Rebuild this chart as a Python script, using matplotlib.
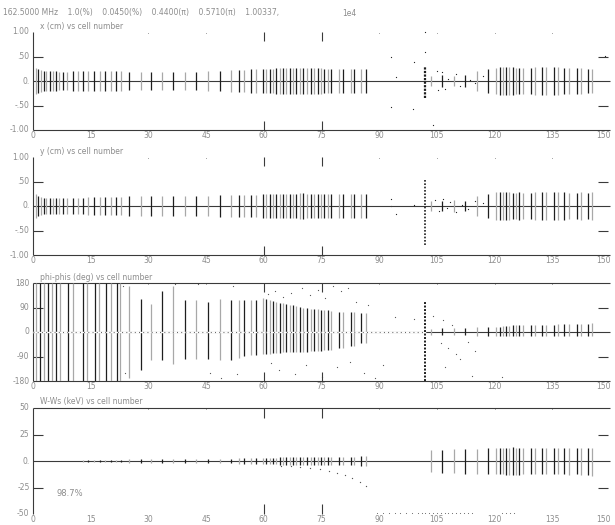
import matplotlib
matplotlib.use("Agg")
import matplotlib.pyplot as plt
import matplotlib.transforms as mtransforms

# Header / titles
HEADER = "162.5000 MHz    1.0(%)    0.0450(%)    0.4400(\u03c0)    0.5710(\u03c0)    1.00337,"
HEADER_RIGHT = "1e4"
TITLES = ["x (cm) vs cell number", "y (cm) vs cell number",
          "phi-phis (deg) vs cell number", "W-Ws (keV) vs cell number"]
NOTE = "98.7%"

# x tick labels (cell number)
XTICKS = [0, 15, 30, 45, 60, 75, 90, 105, 120, 135, 150]

# y tick values / labels per panel
YTICKS = [[1.0, 0.5, 0.0, -0.5, -1.0], [1.0, 0.5, 0.0, -0.5, -1.0],
          [180, 90, 0, -90, -180], [50, 25, 0, -25, -50]]
YLABELS = [["1.00", ".50", "0.", "-.50", "-1.00"], ["1.00", ".50", "0.", "-.50", "-1.00"],
           ["180", "90", "0", "-90", "-180"], ["50", "25", "0.", "-25", "-50"]]

# output positions, first section (cell number)
pos1 = [0.7, 1.4, 2.1, 2.8, 3.5, 4.3, 5.1, 5.9, 6.7, 7.8, 8.9, 10.4, 11.7, 13.0,
        14.4, 15.8, 17.3, 18.7, 20.2, 21.6, 22.8, 24.9, 28.0, 30.8, 33.6, 36.4,
        39.4, 42.4, 45.4, 48.5, 51.5, 53.6, 54.9, 56.7, 58.0, 59.8, 60.7, 61.5,
        62.4, 63.3, 64.1, 65.0, 65.9, 66.7, 67.6, 68.4, 69.3, 70.3, 71.2, 72.2,
        73.1, 74.0, 74.8, 75.7, 76.6, 77.4, 79.6, 80.5, 82.6, 83.5, 85.2, 86.6]
# second section
pos2 = [103.5, 106.4, 109.4, 112.4, 115.4, 118.4, 120.4, 121.3, 122.2, 123.0,
        123.8, 124.7, 125.6, 126.4, 127.4, 129.4, 130.4, 132.3, 133.4, 135.4,
        136.4, 138.1, 139.4, 141.4, 142.4, 144.2, 145.3]

# x envelope half-widths (cm)
x_h1 = [0.27, 0.25, 0.22, 0.21, 0.20, 0.20, 0.20, 0.20, 0.19, 0.19, 0.19, 0.20,
        0.20, 0.20, 0.20, 0.21, 0.21, 0.20, 0.20, 0.20, 0.20, 0.19, 0.18, 0.18,
        0.18, 0.18, 0.19, 0.19, 0.20, 0.21, 0.22, 0.23, 0.23, 0.24, 0.24, 0.25,
        0.25, 0.25, 0.25, 0.26, 0.26, 0.26, 0.26, 0.26, 0.27, 0.27, 0.27, 0.27,
        0.26, 0.26, 0.26, 0.26, 0.26, 0.25, 0.25, 0.25, 0.24, 0.24, 0.24, 0.24,
        0.24, 0.24]
x_h2 = [0.10, 0.12, 0.10, 0.12, 0.20, 0.24, 0.27, 0.28, 0.29, 0.29, 0.28, 0.28,
        0.27, 0.27, 0.26, 0.27, 0.28, 0.29, 0.28, 0.29, 0.28, 0.27, 0.27, 0.26,
        0.26, 0.25, 0.25]
# y envelope half-widths (cm)
y_h1 = [0.24, 0.21, 0.18, 0.17, 0.17, 0.17, 0.16, 0.16, 0.16, 0.17, 0.17, 0.17,
        0.17, 0.17, 0.18, 0.18, 0.19, 0.19, 0.19, 0.19, 0.19, 0.20, 0.20, 0.20,
        0.20, 0.20, 0.21, 0.21, 0.21, 0.22, 0.22, 0.22, 0.23, 0.23, 0.23, 0.24,
        0.24, 0.24, 0.24, 0.24, 0.25, 0.25, 0.25, 0.25, 0.25, 0.25, 0.26, 0.26,
        0.25, 0.25, 0.25, 0.25, 0.25, 0.25, 0.25, 0.25, 0.25, 0.25, 0.24, 0.24,
        0.24, 0.24]
y_h2 = [0.10, 0.10, 0.12, 0.10, 0.20, 0.25, 0.28, 0.29, 0.29, 0.28, 0.28, 0.27,
        0.27, 0.28, 0.27, 0.27, 0.28, 0.29, 0.28, 0.29, 0.29, 0.28, 0.27, 0.27,
        0.28, 0.27, 0.29]

# phase: full-width bars of the buncher region
pos3a = [0.8, 1.8, 2.9, 3.8, 4.9, 6.0, 7.0, 9.2, 10.3, 13.1, 14.1, 16.1, 17.2,
         19.1, 20.2, 21.9, 22.7]
pos3b = [24.9, 28.0, 30.8, 33.6, 36.4, 39.4, 42.4, 45.4, 48.5, 51.5, 53.6, 54.9,
         56.7, 58.0, 59.8, 60.7, 61.5, 62.4, 63.3, 64.1, 65.0, 65.9, 66.7, 67.6,
         68.4, 69.3, 70.3, 71.2, 72.2, 73.1, 74.0, 74.8, 75.7, 76.6, 77.4, 79.6,
         80.5, 82.6, 83.5, 85.2, 86.6]
ph_top = [170, 122, 104, 150, 168, 116, 118, 112, 122, 118, 118, 118, 118, 118,
          125, 120, 118, 115, 112, 108, 105, 102, 100, 98, 95, 92, 90, 88, 86, 84,
          83, 82, 80, 79, 78, 75, 75, 72, 72, 68, 68]
ph_bot = [-170, -141, -104, -104, -116, -101, -98, -98, -102, -104, -96, -88, -86,
          -86, -82, -80, -79, -78, -77, -76, -75, -75, -74, -74, -73, -73, -72,
          -72, -71, -70, -70, -68, -67, -66, -65, -58, -58, -52, -52, -40, -40]
ph_top2 = [12, 15, 15, 15, 18, 18, 20, 20, 22, 22, 22, 24, 24, 24, 25, 25, 26,
           26, 27, 27, 28, 28, 28, 29, 30, 30, 32]
ph_bot2 = [-10, -12, -12, -12, -14, -14, -15, -15, -15, -16, -16, -16, -16, -16,
           -16, -16, -16, -16, -16, -16, -16, -16, -16, -16, -16, -14, -14]

# energy half-widths (keV)
w_pos1 = [13.0, 14.4, 15.8, 17.3, 18.7, 20.2, 21.6, 22.8, 24.9, 28.0, 30.8, 33.6,
          36.4, 39.4, 42.4, 45.4, 48.5, 51.5, 53.6, 54.9, 56.7, 58.0, 59.8, 60.7,
          61.5, 62.4, 63.3, 64.1, 65.0, 65.9, 66.7, 67.6, 68.4, 69.3, 70.3, 71.2,
          72.2, 73.1, 74.0, 74.8, 75.7, 76.6, 77.4, 79.6, 80.5, 82.6, 83.5, 85.2,
          86.6]
w_h1 = [1.0, 1.0, 1.0, 1.2, 1.2, 1.2, 1.3, 1.3, 1.5, 1.5, 1.6, 1.6, 1.7, 1.8,
        2.0, 2.0, 2.2, 2.3, 2.5, 2.5, 2.8, 3.0, 3.2, 3.2, 3.3, 3.3, 3.3, 3.4, 3.4,
        3.4, 3.5, 3.5, 3.5, 3.5, 3.5, 3.6, 3.6, 3.6, 3.6, 3.7, 3.7, 3.7, 3.8, 4.0,
        4.0, 4.2, 4.2, 4.5, 4.5]
w_top2 = [10, 10, 11, 11, 11, 12, 12, 12, 12, 12, 12, 13, 12, 12, 12, 12, 12, 12,
          12, 12, 12, 12, 12, 12, 12, 12, 12]
w_bot2 = [-10, -11, -11, -12, -12, -12, -12, -12, -12, -13, -13, -13, -13, -13,
          -12, -12, -12, -12, -12, -12, -12, -12, -13, -12, -13, -13, -14]
# energy of the off-bunch particles (tail below zero)
w_tail_x = [64.5, 67.0, 69.5, 72.0, 74.5, 77.0, 79.0, 81.0, 83.0, 85.0, 86.5]
w_tail_y = [-4.5, -5.0, -5.5, -6.5, -7.5, -9.0, -11.0, -13.0, -16.0, -20.0, -24.0]
# lost particles, plotted on the bottom edge
lost_x = [89.5, 91.0, 92.5, 94.0, 95.5, 97.0, 98.5, 100.0, 101.0, 102.0, 103.0,
          104.0, 105.0, 106.0, 107.0, 108.0, 109.0, 110.0, 111.0, 112.0, 113.0,
          114.0, 122.0, 123.0, 124.0, 125.0]

# scattered halo points
x_scat_x = [93.0, 94.4, 93.0, 99.0, 98.8, 102.0, 102.0, 104.0, 105.0, 105.2,
            106.4, 107.0, 108.0, 110.0, 111.0, 113.5, 115.0, 117.0, 148.6]
x_scat_y = [0.49, 0.08, -0.53, 0.38, -0.58, 0.59, 1.0, -0.89, 0.20, -0.18, 0.18,
            -0.16, 0.05, 0.14, -0.10, 0.02, -0.05, 0.11, 0.52]
y_scat_x = [93.0, 93.0, 94.4, 99.0, 104.5, 105.5, 106.5, 107.5, 108.5, 110.0,
            111.5, 113.0, 115.0, 117.0]
y_scat_y = [0.14, 0.0, -0.16, 0.02, 0.12, -0.10, 0.15, -0.05, 0.08, -0.12, 0.03,
            -0.06, 0.10, 0.06]
ph_scat_x = [23.5, 24.0, 37.0, 43.0, 46.0, 49.0, 52.0, 53.0, 61.0, 62.0, 63.0,
             64.0, 65.0, 67.0, 68.0, 70.0, 71.0, 72.0, 74.0, 75.0, 76.0, 78.0,
             79.0, 80.0, 82.0, 82.5, 84.0, 86.0, 87.0, 89.0, 91.0, 94.0, 99.0,
             104.0, 106.0, 106.5, 107.0, 108.0, 109.0, 110.0, 111.0, 113.0,
             114.0, 115.0, 122.0]
ph_scat_y = [170, -150, 175, 175, -150, -170, 170, -155, 140, -115, 150, -140,
             130, 145, -155, 160, -120, 135, 155, -165, 125, 170, -130, 150, 160,
             -110, 110, -150, 100, -170, -120, 55, 48, 60, -40, 45, -130, -60,
             25, -80, -100, -35, -160, -70, -165]
ph_col_x = 102.0
ph_col_lo = -180
ph_col_hi = 110
xcol_lo, xcol_hi = -0.34, 0.30
ycol_lo, ycol_hi = -0.79, 0.54

TXT = "#8c8c8c"
LINE = "#3a3a3a"
DARK = "#1e1e1e"
GRAY = "#a8a8a8"

fig = plt.figure(figsize=(6.15, 5.25), dpi=100)
W, H = 615.0, 525.0
rows = [(32, 130), (157, 255), (283, 381), (408, 514)]
axes = []
for top, bot in rows:
    ax = fig.add_axes([33 / W, 1 - bot / H, 577 / W, (bot - top) / H])
    ax.set_xlim(0, 150)
    ax.axis("off")
    axes.append(ax)

limits = [(-1, 1), (-1, 1), (-180, 180), (-50, 50)]
for i, ax in enumerate(axes):
    lo, hi = limits[i]
    ax.set_ylim(lo, hi)
    span = hi - lo
    kw = dict(color=LINE, lw=0.8, clip_on=False, solid_capstyle="butt")
    ax.plot([0, 0], [lo, hi], **kw)
    ax.plot([0, 150], [0, 0], **kw)
    if i < 3:
        ax.plot([0, 150], [lo, lo], **kw)
    if i >= 2:
        ax.plot([0, 150], [hi, hi], **kw)
    # short y ticks at half range
    for v in (YTICKS[i][1], YTICKS[i][3]):
        ax.plot([0, 2.6], [v, v], **kw)
        ax.plot([147.0, 149.6], [v, v], **kw)
    # long x ticks
    for xv in (60, 75):
        ax.plot([xv, xv], [hi, hi - 0.09 * span], **kw)
        ax.plot([xv, xv], [lo, lo + 0.09 * span], **kw)
    for xv in (30, 45, 90, 105, 120, 135):
        ax.plot([xv], [hi - 0.01 * span], marker="s", ms=0.45, color="#777777",
                mew=0, clip_on=False)
    trans_y = mtransforms.blended_transform_factory(ax.transAxes, ax.transData)
    for v, lab in zip(YTICKS[i], YLABELS[i]):
        ax.text(-0.006, v, lab, transform=trans_y, ha="right", va="center",
                fontsize=5.5, color=TXT)
    trans_x = mtransforms.blended_transform_factory(ax.transData, ax.transAxes)
    for xv in XTICKS:
        xpos = xv if xv < 150 else 148.3
        ax.text(xpos, -0.055, str(xv), transform=trans_x, ha="center", va="center",
                fontsize=5.5, color=TXT, clip_on=False)
    ax.text(0.012, 1.06, TITLES[i], transform=ax.transAxes, ha="left",
            va="center", fontsize=5.5, color=TXT)


def bars(ax, xs, lo, hi):
    cols = [DARK if k % 2 else GRAY for k in range(len(xs))]
    ax.vlines(xs, lo, hi, colors=cols, lw=0.9)


# panel 1: x
ax = axes[0]
bars(ax, pos1, [-h for h in x_h1], x_h1)
bars(ax, pos2, [-h for h in x_h2], x_h2)
ax.vlines([ph_col_x], xcol_lo, xcol_hi, colors=DARK, lw=1.6, linestyles=(0, (1, 0.6)))
ax.scatter(x_scat_x, x_scat_y, s=0.8, color=DARK, lw=0, clip_on=False)

# panel 2: y
ax = axes[1]
bars(ax, pos1, [-h for h in y_h1], y_h1)
bars(ax, pos2, [-h for h in y_h2], y_h2)
ax.vlines([ph_col_x], ycol_lo, ycol_hi, colors=DARK, lw=1.2, linestyles=(0, (1, 1)))
ax.scatter(y_scat_x, y_scat_y, s=0.8, color=DARK, lw=0)

# panel 3: phase
ax = axes[2]
bars(ax, pos3a, -180, 180)
bars(ax, pos3b, ph_bot, ph_top)
bars(ax, pos2, ph_bot2, ph_top2)
ax.plot([0, 102], [0, 0], color="white", lw=1.0)
ax.plot([0, 102], [0, 0], color="#555555", lw=0.8, ls=(0, (0.8, 3)))
ax.vlines([ph_col_x], ph_col_lo, ph_col_hi, colors=DARK, lw=1.4, linestyles=(0, (1, 0.8)))
ax.scatter(ph_scat_x, ph_scat_y, s=0.8, color="#555555", lw=0)

# panel 4: energy
ax = axes[3]
bars(ax, w_pos1, [-h for h in w_h1], w_h1)
bars(ax, pos2, w_bot2, w_top2)
ax.scatter(w_tail_x, w_tail_y, s=0.9, color="#555555", lw=0)
ax.scatter(lost_x, [-49.5] * len(lost_x), s=0.6, color="#666666", lw=0, clip_on=False)
ax.text(0.04, 0.19, NOTE, transform=ax.transAxes, fontsize=6, color=TXT,
        ha="left", va="center")

fig.text(3 / W, 1 - 13 / H, HEADER, fontsize=5.5, color=TXT, ha="left", va="center")
fig.text(342 / W, 1 - 13 / H, HEADER_RIGHT, fontsize=5.5, color=TXT, ha="left", va="center")

fig.savefig("out.png", dpi=100)
